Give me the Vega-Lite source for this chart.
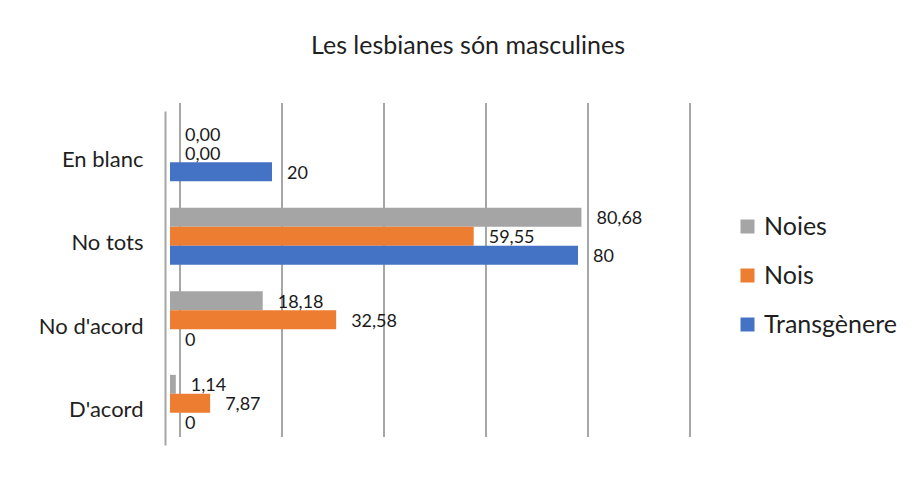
{
  "$schema": "https://vega.github.io/schema/vega-lite/v6.json",
  "autosize": "none",
  "width": 510,
  "height": 334,
  "padding": {"left": 170, "top": 111, "right": 232, "bottom": 34},
  "background": "white",
  "config": {
    "view": {"stroke": null},
    "font": "Lato"
  },
  "title": {
    "text": "Les lesbianes són masculines",
    "font": "Lato",
    "fontSize": 25,
    "fontWeight": "normal",
    "color": "#1f1f1f",
    "anchor": "middle",
    "frame": "group",
    "dx": 43,
    "offset": 52
  },
  "data": {
    "values": [
      {"cat": "En blanc", "serie": "Noies", "val": 0, "label": "0,00"},
      {"cat": "En blanc", "serie": "Nois", "val": 0, "label": "0,00"},
      {"cat": "En blanc", "serie": "Transgènere", "val": 20, "label": "20"},
      {"cat": "No tots", "serie": "Noies", "val": 80.68, "label": "80,68"},
      {"cat": "No tots", "serie": "Nois", "val": 59.55, "label": "59,55"},
      {"cat": "No tots", "serie": "Transgènere", "val": 80, "label": "80"},
      {"cat": "No d'acord", "serie": "Noies", "val": 18.18, "label": "18,18"},
      {"cat": "No d'acord", "serie": "Nois", "val": 32.58, "label": "32,58"},
      {"cat": "No d'acord", "serie": "Transgènere", "val": 0, "label": "0"},
      {"cat": "D'acord", "serie": "Noies", "val": 1.14, "label": "1,14"},
      {"cat": "D'acord", "serie": "Nois", "val": 7.87, "label": "7,87"},
      {"cat": "D'acord", "serie": "Transgènere", "val": 0, "label": "0"}
    ]
  },
  "encoding": {
    "y": {
      "field": "cat", "type": "nominal",
      "sort": ["En blanc", "No tots", "No d'acord", "D'acord"],
      "scale": {"paddingInner": 0.32, "paddingOuter": 0.16},
      "axis": {
        "title": null, "domain": true, "domainColor": "#A6A6A6", "domainWidth": 2,
        "offset": 5, "ticks": false, "tickSize": 0,
        "labelPadding": 22, "labelFont": "Lato", "labelFontSize": 22,
        "labelColor": "#1f1f1f", "labelOffset": 7
      }
    },
    "yOffset": {
      "field": "serie", "type": "nominal",
      "sort": ["Noies", "Nois", "Transgènere"]
    }
  },
  "resolve": {"scale": {"x": "independent"}, "axis": {"x": "independent"}},
  "layer": [
    {
      "mark": {"type": "point", "opacity": 0},
      "encoding": {
        "x": {
          "field": "val", "type": "quantitative",
          "scale": {"domain": [0, 100], "range": [18, 528]},
          "axis": {
            "title": null, "labels": false, "ticks": false, "domain": false,
            "values": [0, 20, 40, 60, 80, 100],
            "grid": true, "gridColor": "#A6A6A6", "gridWidth": 2,
            "translate": -8
          }
        }
      }
    },
    {
      "mark": {"type": "bar"},
      "encoding": {
        "x": {"field": "val", "type": "quantitative", "scale": {"domain": [0, 100]}, "axis": null},
        "color": {
          "field": "serie", "type": "nominal",
          "scale": {"domain": ["Noies", "Nois", "Transgènere"], "range": ["#A5A5A5", "#ED7D31", "#4472C4"]},
          "legend": {
            "title": null, "orient": "none", "legendX": 565, "legendY": 103,
            "symbolType": "square", "symbolSize": 196, "symbolStrokeWidth": 0,
            "labelFont": "Lato", "labelFontSize": 25, "labelColor": "#1f1f1f",
            "labelOffset": 4, "rowPadding": 23
          }
        }
      }
    },
    {
      "mark": {"type": "text", "align": "left", "baseline": "middle", "dx": 15, "dy": 2, "fontSize": 18, "font": "Lato", "color": "#1a1a1a"},
      "encoding": {
        "x": {"field": "val", "type": "quantitative", "scale": {"domain": [0, 100]}, "axis": null},
        "text": {"field": "label", "type": "nominal"}
      }
    }
  ]
}
